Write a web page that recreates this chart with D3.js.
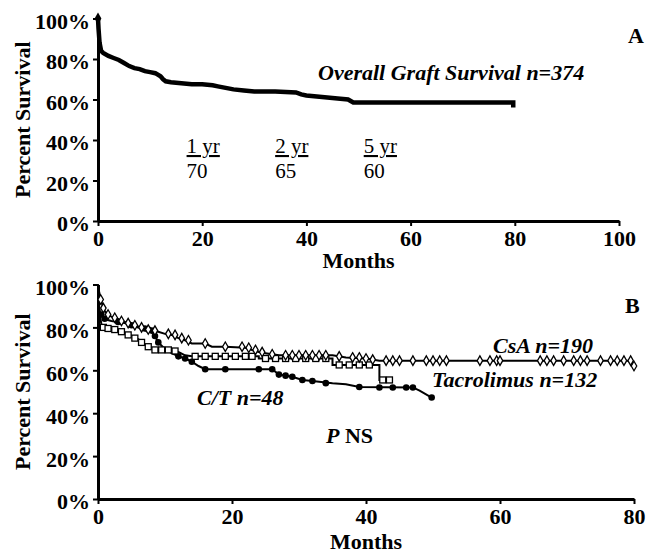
<!DOCTYPE html>
<html>
<head>
<meta charset="utf-8">
<script src="https://cdn.jsdelivr.net/npm/d3@7"></script>
<style>
    body { margin: 0; background: #fff; }
    svg text { font-family: "Liberation Serif", "Times New Roman", serif; fill: #000; }
</style>
</head>
<body>
<svg class="chart"></svg>
<script>
// Panel A - overall graft survival (months, percent)
var overallMonths = [0, 0.1, 0.3, 0.6, 1, 2, 3, 4, 5, 6, 7, 8, 9, 10, 11, 12, 12.5, 13, 14, 16, 18, 20, 22, 23, 24, 26, 28, 30, 34, 38, 39, 40, 42, 44, 46, 48, 49, 60, 70, 79.7, 79.7];
var overallSurv   = [100, 95, 88, 84, 83, 81.5, 80.5, 79.5, 78, 76.5, 75.5, 75, 74, 73.5, 73, 71.5, 70, 69, 68.5, 68, 67.5, 67.5, 67, 66.5, 66, 65, 64.5, 64, 64, 63.5, 62.5, 62, 61.5, 61, 60.5, 60, 58.5, 58.5, 58.5, 58.5, 56];

var yearLabels = ["1 yr", "2 yr", "5 yr"];
var yearValues = ["70", "65", "60"];
var yearMonths = [17, 34, 51];

// Panel B - by immunosuppression
var csaCurve = [[0,100],[0.2,96],[0.5,92],[1,87.5],[2,85],[3,84],[4,82.5],[5,81.5],[6,80.5],[7,79.5],[8,78.5],[9,78],[10,77],[11,76.5],[12,75],[13,74],[14,72.5],[16,72.5],[17,71],[19,71],[22,70.5],[23,69.5],[24,68.5],[25,68],[27,67],[30,67],[35,67],[37,66],[40,65.5],[42,64.5],[50,64.5],[60,64.5],[70,64.5],[79.5,64.5],[80,62]];
var csaCensor = [[0.4,93],[0.8,89],[1.5,86],[2.5,84.5],[3.5,83],[4.5,82],[5.5,81],[6.5,80],[7.5,79],[8.5,78.5],[10.5,77],[11.5,76.5],[12.5,75],[13.5,74],[16,72.5],[19,71],[21.5,71],[22.5,70.5],[23.5,69.5],[24.5,68.5],[26,67.5],[28,67],[29,67],[30,67],[31,67],[32,67],[33,67],[34,67],[36,66.5],[38,66],[39,66],[40,65.5],[41,65],[43,64.5],[44,64.5],[45,64.5],[47,64.5],[49,64.5],[50,64.5],[51,64.5],[52,64.5],[57,64.5],[58.5,64.5],[59.5,64.5],[60,64.5],[66,64.5],[67,64.5],[68,64.5],[69.5,64.5],[71,64.5],[72,64.5],[73,64.5],[75,64.5],[76.5,64.5],[77.5,64.5],[78.5,64.5],[79.5,64.5],[80,62]];

var tacCurve = [[0,100],[0.1,92],[0.3,85],[0.6,80],[2,79.5],[3,78.5],[4,77.5],[5,76],[6,74.5],[7,72],[8,70],[9,69.5],[10,69.5],[11,69],[12,68.5],[13,67],[14,66.5],[24,66.5],[24,65.5],[35,65.5],[35,62.5],[42,62.5],[42,55.5],[44,55.5]];
var tacCensor = [[0.8,80],[1.5,79.5],[2.5,79],[3.5,78],[4.5,76.5],[5.5,75],[6.5,73],[7.5,71],[8.5,69.5],[9.5,69.5],[10.5,69.5],[11.5,69],[14.5,66.5],[16,66.5],[17.5,66.5],[19,66.5],[20.5,66.5],[22,66.5],[23,66.5],[25,65.5],[26.5,65.5],[28,65.5],[29.5,65.5],[31,65.5],[32.5,65.5],[34,65.5],[36,62.5],[37.5,62.5],[39,62.5],[40.5,62.5],[42.5,55.5],[43.5,55.5]];

var ctCurve = [[0,100],[0.1,90],[0.3,87],[0.8,84],[2,83],[4,82],[6,80],[7,79.5],[8,78.5],[8.5,76],[9,73],[10,70],[11,68],[12,66.5],[13,65.5],[14,64],[15,62],[16,60.5],[26,60.5],[27,58],[29,57],[30.5,55.5],[32,55],[35,54],[37,53.5],[39,52.2],[47,52],[48,50.5],[49.8,47.3]];
var ctCensor = [[0.5,86],[1,84],[3,82.5],[5,81],[7,79.5],[7.5,79],[8,78.5],[8.5,76],[9,73],[12,66.5],[13,65.5],[14,64],[16,60.5],[19,60.5],[24,60.5],[26,60.5],[27,58],[28,57.5],[29,57],[30.5,55.5],[32,55],[34,54],[39,52.2],[42,52],[44,52],[46,52],[47,52],[49.8,47.3]];

var pctTicks = [0, 20, 40, 60, 80, 100];
var monthTicksA = [0, 20, 40, 60, 80, 100];
var monthTicksB = [0, 20, 40, 60, 80];

var width = 646,
    height = 553,
    fontSize = 22,
    chart,
    xA, yA, xB, yB,
    panelA, panelB;

chart = d3.select(".chart")
    .attr("width", width)
    .attr("height", height);

function drawAxes(g, x, y, xTicks) {
    var xAxis, yAxis;

    xAxis = g.append("g")
        .attr("transform", "translate(0," + y(0) + ")")
        .call(d3.axisBottom(x).tickValues(xTicks).tickSize(5).tickSizeOuter(0).tickPadding(6));

    yAxis = g.append("g")
        .attr("transform", "translate(" + x(0) + ",0)")
        .call(d3.axisLeft(y).tickValues(pctTicks).tickSize(5).tickSizeOuter(0).tickPadding(3)
            .tickFormat(function(d) { return d + "%"; }));

    g.selectAll(".domain").attr("stroke", "#000").attr("stroke-width", 3);
    g.selectAll(".tick line").attr("stroke", "#000").attr("stroke-width", 2);
    g.selectAll(".tick text")
        .attr("font-size", fontSize)
        .attr("font-weight", "bold")
        .attr("font-family", "Liberation Serif");
    yAxis.selectAll(".tick text").attr("dy", "0.45em");
    xAxis.selectAll(".tick text").attr("dy", "0.62em");
}

function axisTitles(g, x, y, monthsY) {
    g.append("text")
        .attr("transform", "translate(30," + ((y(0) + y(100)) / 2) + ") rotate(-90)")
        .attr("text-anchor", "middle")
        .attr("font-size", fontSize)
        .attr("font-weight", "bold")
        .text("Percent Survival");

    g.append("text")
        .attr("x", (x.range()[0] + x.range()[1]) / 2)
        .attr("y", monthsY)
        .attr("text-anchor", "middle")
        .attr("font-size", fontSize)
        .attr("font-weight", "bold")
        .text("Months");
}

// ---- Panel A ----
xA = d3.scaleLinear().domain([0, 100]).range([98, 619]);
yA = d3.scaleLinear().domain([0, 100]).range([221, 18.5]);

panelA = chart.append("g");
drawAxes(panelA, xA, yA, monthTicksA);
axisTitles(panelA, xA, yA, 268);

panelA.append("path")
    .datum(overallMonths.map(function(m, i) { return [m, overallSurv[i]]; }))
    .attr("fill", "none")
    .attr("stroke", "#000")
    .attr("stroke-width", 4.5)
    .attr("d", d3.line()
        .x(function(d) { return xA(d[0]); })
        .y(function(d) { return yA(d[1]); }));

panelA.append("path")
    .attr("d", d3.symbol().type(d3.symbolDiamond).size(40))
    .attr("transform", "translate(" + xA(0) + "," + yA(overallSurv[0]) + ")")
    .attr("fill", "#000");

panelA.append("text")
    .attr("x", 318)
    .attr("y", 80)
    .attr("font-size", fontSize)
    .attr("font-weight", "bold")
    .attr("font-style", "italic")
    .text("Overall Graft Survival n=374");

panelA.append("text")
    .attr("x", 628)
    .attr("y", 43)
    .attr("font-size", fontSize)
    .attr("font-weight", "bold")
    .text("A");

var yr = panelA.selectAll(".yr")
    .data(yearLabels)
    .enter().append("g")
    .attr("class", "yr")
    .attr("transform", function(d, i) { return "translate(" + xA(yearMonths[i]) + ",0)"; });

yr.append("text")
    .attr("y", 153)
    .attr("font-size", 21)
    .attr("text-decoration", "underline")
    .text(function(d) { return d; });

yr.append("text")
    .attr("y", 178)
    .attr("font-size", 21)
    .text(function(d, i) { return yearValues[i]; });

// ---- Panel B ----
xB = d3.scaleLinear().domain([0, 80]).range([98, 634]);
yB = d3.scaleLinear().domain([0, 100]).range([499, 284.5]);

panelB = chart.append("g");
drawAxes(panelB, xB, yB, monthTicksB);
axisTitles(panelB, xB, yB, 549);

var lineB = d3.line()
    .x(function(d) { return xB(d[0]); })
    .y(function(d) { return yB(d[1]); });

[ctCurve, tacCurve, csaCurve].forEach(function(c) {
    panelB.append("path")
        .datum(c)
        .attr("fill", "none")
        .attr("stroke", "#000")
        .attr("stroke-width", 2)
        .attr("d", lineB);
});

panelB.selectAll(".ct")
    .data(ctCensor)
    .enter().append("circle")
    .attr("class", "ct")
    .attr("cx", function(d) { return xB(d[0]); })
    .attr("cy", function(d) { return yB(d[1]); })
    .attr("r", 3.3)
    .attr("fill", "#000");

panelB.selectAll(".tac")
    .data(tacCensor)
    .enter().append("rect")
    .attr("class", "tac")
    .attr("x", function(d) { return xB(d[0]) - 3; })
    .attr("y", function(d) { return yB(d[1]) - 3; })
    .attr("width", 6)
    .attr("height", 6)
    .attr("fill", "#fff")
    .attr("stroke", "#000")
    .attr("stroke-width", 1.3);

panelB.selectAll(".csa")
    .data(csaCensor)
    .enter().append("path")
    .attr("class", "csa")
    .attr("d", d3.symbol().type(d3.symbolDiamond).size(26))
    .attr("transform", function(d) { return "translate(" + xB(d[0]) + "," + yB(d[1]) + ")"; })
    .attr("fill", "#fff")
    .attr("stroke", "#000")
    .attr("stroke-width", 1.3);

panelB.append("text")
    .attr("x", 625)
    .attr("y", 313)
    .attr("font-size", fontSize)
    .attr("font-weight", "bold")
    .text("B");

panelB.append("text")
    .attr("x", 493)
    .attr("y", 353)
    .attr("font-size", fontSize)
    .attr("font-weight", "bold")
    .attr("font-style", "italic")
    .text("CsA n=190");

panelB.append("text")
    .attr("x", 432)
    .attr("y", 387)
    .attr("font-size", fontSize)
    .attr("font-weight", "bold")
    .attr("font-style", "italic")
    .text("Tacrolimus n=132");

panelB.append("text")
    .attr("x", 197)
    .attr("y", 405)
    .attr("font-size", fontSize)
    .attr("font-weight", "bold")
    .attr("font-style", "italic")
    .text("C/T n=48");

var pns = panelB.append("text")
    .attr("x", 326)
    .attr("y", 443)
    .attr("font-size", fontSize)
    .attr("font-weight", "bold");
pns.append("tspan").attr("font-style", "italic").text("P");
pns.append("tspan").text(" NS");
</script>
</body>
</html>
